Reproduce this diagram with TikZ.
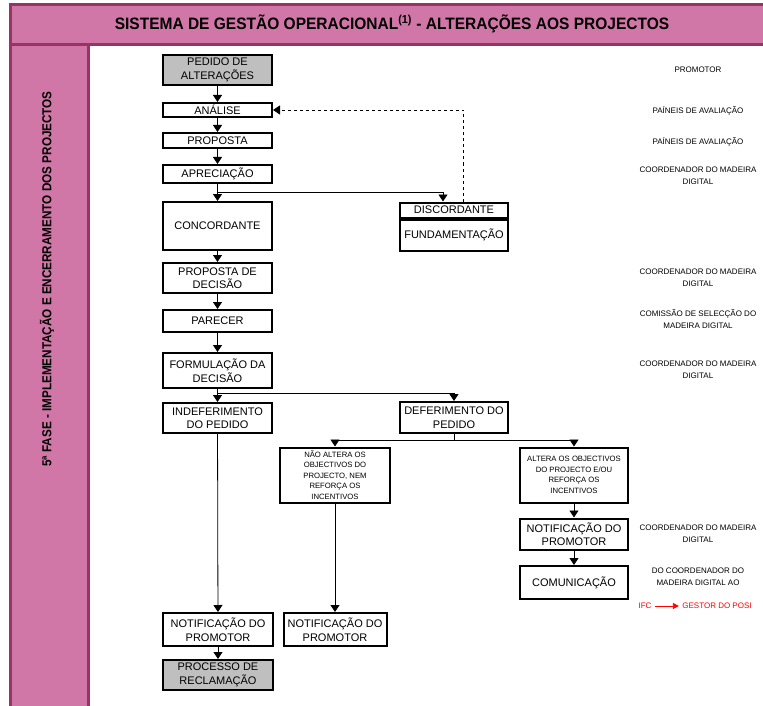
\documentclass[tikz,border=0pt]{standalone}
\usepackage{fontspec}
\setmainfont{Liberation Sans}
\newfontfamily\estreita[FakeStretch=0.94]{Liberation Sans}
\newfontfamily\lateral[FakeStretch=0.9]{Liberation Sans}
\usetikzlibrary{arrows.meta}

\definecolor{rosa}{RGB}{209,119,167}
\definecolor{borda}{RGB}{153,51,102}
\definecolor{vermelho}{RGB}{255,0,0}

\tikzset{
  etapa/.style={draw, line width=2pt, fill=white, align=center, inner sep=0pt,
    font=\fontsize{11}{13.5}\selectfont},
  cinza/.style={etapa, fill=gray!50},
  miudo/.style={etapa, font=\fontsize{7.7}{10.5}\selectfont},
  resp/.style={align=center, font=\fontsize{8}{12}\selectfont},
  seta/.style={-{Triangle[width=9pt,length=7pt]}, line width=0.8pt},
  fio/.style={line width=0.8pt},
}

\begin{document}
\begin{tikzpicture}[x=1pt, y=-1pt]
    \def \larg {109pt}
    \useasboundingbox (0,0) rectangle (763,706);

    % moldura
    \draw[borda, line width=3pt, fill=rosa] (10,5) rectangle (775,45);
    \draw[borda, line width=3pt, fill=rosa] (10,45) rectangle (88,720);
    \node[font=\estreita\bfseries\fontsize{16.5}{18}\selectfont] (titulo) at (392,24)
        {SISTEMA DE GESTÃO OPERACIONAL\textsuperscript{(1)} - ALTERAÇÕES AOS PROJECTOS};
    \node[rotate=90, font=\lateral\bfseries\fontsize{13}{15}\selectfont] (fase) at (47,279)
        {5ª FASE - IMPLEMENTAÇÃO E ENCERRAMENTO DOS PROJECTOS};

    % coluna principal
    \node[cinza, minimum width=\larg, minimum height=30pt] (pedido) at (217.5,70) {PEDIDO DE\\ALTERAÇÕES};
    \node[etapa, minimum width=\larg, minimum height=14pt] (analise) at (217.5,110) {ANÁLISE};
    \node[etapa, minimum width=\larg, minimum height=15pt] (proposta) at (217.5,140.5) {PROPOSTA};
    \node[etapa, minimum width=\larg, minimum height=18pt] (apreciacao) at (217.5,174) {APRECIAÇÃO};
    \node[etapa, minimum width=\larg, minimum height=48pt] (concordante) at (217.5,226) {CONCORDANTE};
    \node[etapa, minimum width=108pt, minimum height=15pt] (discordante) at (454,210) {DISCORDANTE};
    \node[etapa, minimum width=108pt, minimum height=31pt, anchor=north] (fundamentacao) at (discordante.south) {FUNDAMENTAÇÃO};
    \node[etapa, minimum width=\larg, minimum height=30pt] (propdecisao) at (217.5,278) {PROPOSTA DE\\DECISÃO};
    \node[etapa, minimum width=\larg, minimum height=22pt] (parecer) at (217.5,321) {PARECER};
    \node[etapa, minimum width=\larg, minimum height=35pt] (formulacao) at (217.5,370.5) {FORMULAÇÃO DA\\DECISÃO};
    \node[etapa, minimum width=\larg, minimum height=30pt] (indeferimento) at (217.5,418) {INDEFERIMENTO\\DO PEDIDO};
    \node[etapa, minimum width=108pt, minimum height=31pt] (deferimento) at (454,417.5) {DEFERIMENTO DO\\PEDIDO};
    \node[miudo, minimum width=110pt, minimum height=55pt] (naoaltera) at (335,475)
        {NÃO ALTERA OS\\OBJECTIVOS DO\\PROJECTO, NEM\\REFORÇA OS\\INCENTIVOS};
    \node[miudo, minimum width=108pt, minimum height=55pt] (altera) at (574,475)
        {ALTERA OS OBJECTIVOS\\DO PROJECTO E/OU\\REFORÇA OS\\INCENTIVOS};
    \node[etapa, minimum width=108pt, minimum height=31pt] (notifdir) at (574,534) {NOTIFICAÇÃO DO\\PROMOTOR};
    \node[etapa, minimum width=108pt, minimum height=33pt] (comunicacao) at (574,582.5) {COMUNICAÇÃO};
    \node[etapa, minimum width=110pt, minimum height=33pt] (notifesq) at (218,629.5) {NOTIFICAÇÃO DO\\PROMOTOR};
    \node[etapa, minimum width=103pt, minimum height=33pt] (notifmeio) at (335,629.5) {NOTIFICAÇÃO DO\\PROMOTOR};
    \node[cinza, minimum width=110pt, minimum height=30pt] (reclamacao) at (218,675) {PROCESSO DE\\RECLAMAÇÃO};

    % responsaveis
    \node[resp] (r1) at (698,70) {PROMOTOR};
    \node[resp] (r2) at (698,111) {PAÍNEIS DE AVALIAÇÃO};
    \node[resp] (r3) at (698,142) {PAÍNEIS DE AVALIAÇÃO};
    \node[resp] (r4) at (698,176) {COORDENADOR DO MADEIRA\\DIGITAL};
    \node[resp] (r5) at (698,278) {COORDENADOR DO MADEIRA\\DIGITAL};
    \node[resp] (r6) at (698,319) {COMISSÃO DE SELECÇÃO DO\\MADEIRA DIGITAL};
    \node[resp] (r7) at (698,370) {COORDENADOR DO MADEIRA\\DIGITAL};
    \node[resp] (r8) at (698,534) {COORDENADOR DO MADEIRA\\DIGITAL};
    \node[resp] (r9) at (698,577) {DO COORDENADOR DO\\MADEIRA DIGITAL AO};
    \node[resp, text=vermelho] (ifc) at (645,606) {IFC};
    \node[resp, text=vermelho] (gestor) at (717,606) {GESTOR DO POSI};
    \draw[seta, vermelho, -{Triangle[width=6pt,length=6pt]}] (ifc) -- (gestor);

    % ligacoes
    \coordinate (bifA) at (217.5,192);
    \coordinate (bifB) at (217.5,393);
    \coordinate (bifC) at (454,440);
    \draw[seta] (pedido) -- (analise);
    \draw[seta] (analise) -- (proposta);
    \draw[seta] (proposta) -- (apreciacao);
    \draw[seta] (apreciacao) -- (concordante);
    \draw[seta] (bifA) -| ([xshift=-11pt]discordante.north);
    \draw[seta, dashed] ([xshift=9pt]discordante.north) |- (analise.east);
    \draw[seta] (concordante) -- (propdecisao);
    \draw[seta] (propdecisao) -- (parecer);
    \draw[seta] (parecer) -- (formulacao);
    \draw[seta] (formulacao) -- (indeferimento);
    \draw[seta] (bifB) -| (deferimento.north);
    \draw[seta] (indeferimento) -- (notifesq);
    \draw[fio] (deferimento) -- (bifC);
    \draw[seta] (bifC) -| (naoaltera.north);
    \draw[seta] (bifC) -| (altera.north);
    \draw[seta] (naoaltera) -- (notifmeio);
    \draw[seta] (altera) -- (notifdir);
    \draw[seta] (notifdir) -- (comunicacao);
    \draw[seta] (notifesq) -- (reclamacao);
\end{tikzpicture}
\end{document}
